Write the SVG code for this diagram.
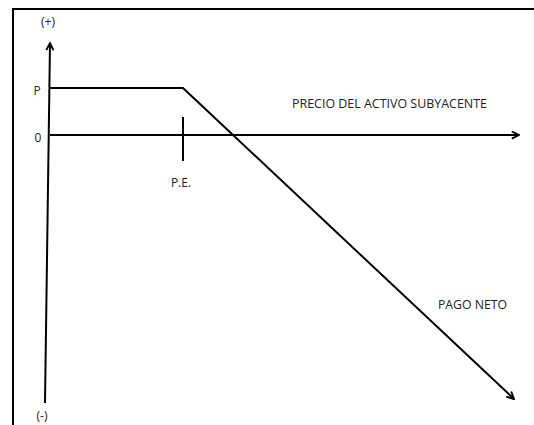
<svg xmlns="http://www.w3.org/2000/svg" width="534" height="425" viewBox="0 0 534 425">
<style>
.ln{stroke:#000;stroke-width:2;fill:none}
.t{font-family:"Open Sans","Liberation Sans",sans-serif;font-size:12px;fill:#222}
</style>
<defs>
<marker id="ah" viewBox="0 0 10 10" refX="9" refY="5" markerWidth="9" markerHeight="9" markerUnits="userSpaceOnUse" orient="auto">
<path d="M1,1 L9,5 L1,9" fill="none" stroke="#000" stroke-width="2"/>
</marker>
</defs>
<rect width="534" height="425" fill="#fff"/>
<g id="frame">
<path class="ln" d="M13,426 L13,9 L534,9"/>
</g>
<g id="connectors">
<line class="ln" x1="45" y1="403" x2="50" y2="43" marker-end="url(#ah)"/>
<line class="ln" x1="50" y1="135" x2="519" y2="135" marker-end="url(#ah)"/>
<line class="ln" x1="183" y1="117" x2="183" y2="161"/>
<polyline class="ln" points="50,88 183,88 514,399" marker-end="url(#ah)"/>
</g>
<g id="labels">
<text class="t" x="48" y="26" text-anchor="middle">(+)</text>
<text class="t" x="37" y="95" text-anchor="middle">P</text>
<text class="t" x="38" y="142" text-anchor="middle">0</text>
<text class="t" x="181" y="187" text-anchor="middle">P.E.</text>
<text class="t" x="292" y="108" textLength="195" lengthAdjust="spacingAndGlyphs">PRECIO DEL ACTIVO SUBYACENTE</text>
<text class="t" x="438" y="309" textLength="69" lengthAdjust="spacingAndGlyphs">PAGO NETO</text>
<text class="t" x="42" y="420" text-anchor="middle">(-)</text>
</g>
</svg>
